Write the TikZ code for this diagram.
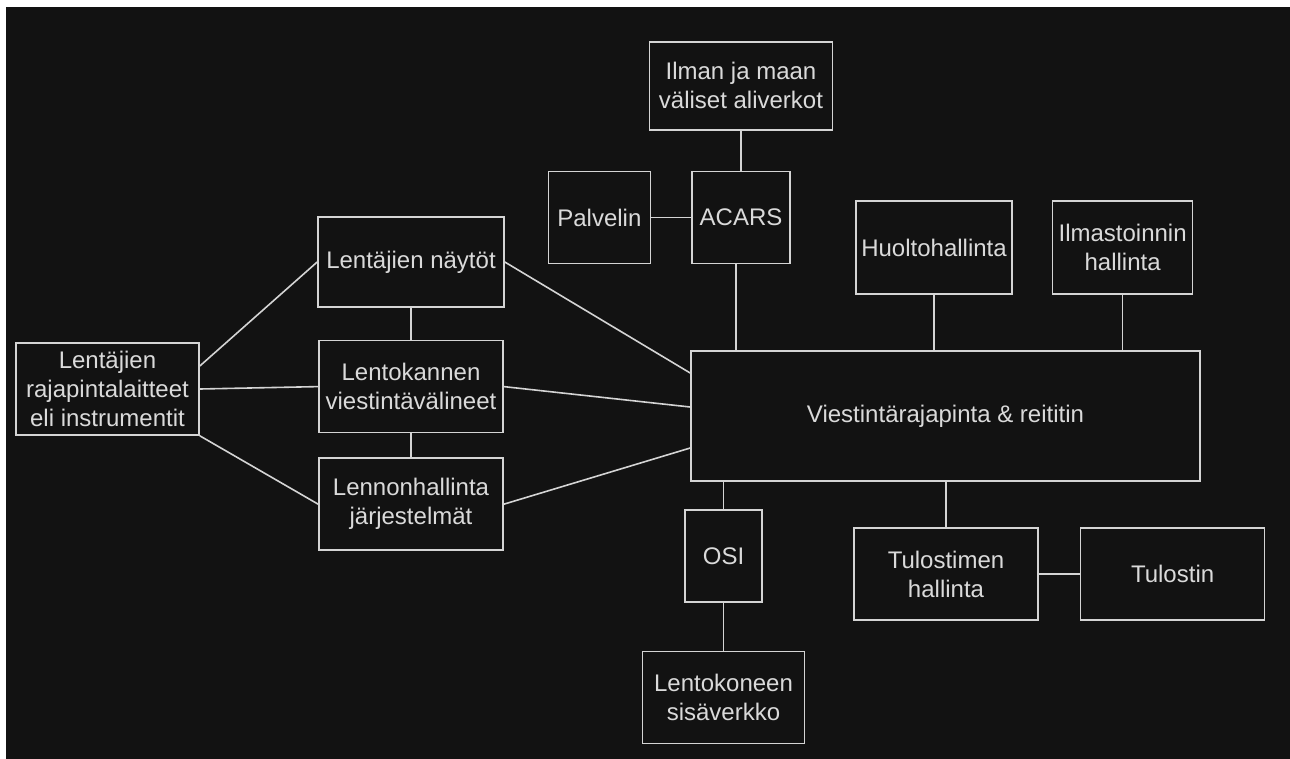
\documentclass[tikz,border=0pt]{standalone}
\usepackage{fontspec}
\setmainfont{Liberation Sans}
\usetikzlibrary{positioning}
\definecolor{bgdark}{RGB}{18,18,18}
\definecolor{linegray}{RGB}{212,212,212}
\definecolor{textgray}{RGB}{218,218,218}

\begin{document}
\begin{tikzpicture}[
  x=1pt, y=-1pt,
  box/.style={draw=linegray, line width=1.6pt, fill=bgdark, text=textgray, minimum height=92pt, align=center, inner sep=2pt, font=\fontsize{24}{29}\selectfont},
  link/.style={draw=linegray, line width=1.6pt}
]
  % Background
  \useasboundingbox (0,0) rectangle (1290,758);
  \fill[white] (0,0) rectangle (1290,758);
  \fill[bgdark] (6,7) rectangle (1300,768);

  % Nodes
  \node[box, minimum width=509pt, minimum height=130pt] (reititin) at (945.5,416) {Viestintärajapinta \& reititin};
  \node[box, minimum width=98pt] (acars) at (741,217.5) {ACARS};
  \node[box, minimum width=102pt] (palvelin) [left=40pt of acars] {Palvelin};
  \node[box, minimum width=183pt, minimum height=88pt] (ilman) [above=40pt of acars] {Ilman ja maan\\väliset aliverkot};
  \node[box, minimum width=186pt, minimum height=90pt] (naytot) at (411,262) {Lentäjien näytöt};
  \node[box, minimum width=184pt] (kansi) [below=32pt of naytot] {Lentokannen\\viestintävälineet};
  \node[box, minimum width=184pt] (lennon) [below=24pt of kansi] {Lennonhallinta\\järjestelmät};
  \node[box, minimum width=183pt] (rajapinta) at (107.5,389) {Lentäjien\\rajapintalaitteet\\eli instrumentit};
  \node[box, minimum width=156pt, minimum height=93pt] (huolto) at (934,247.5) {Huoltohallinta};
  \node[box, minimum width=140pt, minimum height=93pt] (ilmasto) [right=39pt of huolto] {Ilmastoinnin\\hallinta};
  \node[box, minimum width=77pt] (osi) at (723.5,556) {OSI};
  \node[box, minimum width=162pt] (sisaverkko) [below=48pt of osi] {Lentokoneen\\sisäverkko};
  \node[box, minimum width=184pt] (tulhall) at (946,574) {Tulostimen\\hallinta};
  \node[box, minimum width=184pt] (tulostin) [right=41pt of tulhall] {Tulostin};

  % Edges
  \draw[link] (ilman) -- (acars);
  \draw[link] (palvelin) -- (acars);
  \draw[link] ([xshift=-5pt]acars.south) -- ([xshift=-5pt]acars.south |- reititin.north);
  \draw[link] (huolto) -- (huolto |- reititin.north);
  \draw[link] (ilmasto) -- (ilmasto |- reititin.north);
  \draw[link] (naytot) -- (kansi);
  \draw[link] (kansi) -- (lennon);
  \draw[link] ([yshift=23pt]rajapinta.east) -- (naytot.west);
  \draw[link] (rajapinta.east) -- (kansi.west);
  \draw[link] (rajapinta.south east) -- (lennon.west);
  \draw[link] (naytot.east) -- ([yshift=43pt]reititin.west);
  \draw[link] (kansi.east) -- ([yshift=9pt]reititin.west);
  \draw[link] (lennon.east) -- ([yshift=-32pt]reititin.west);
  \draw[link] (reititin.south -| osi) -- (osi);
  \draw[link] (osi) -- (sisaverkko);
  \draw[link] (reititin.south -| tulhall) -- (tulhall);
  \draw[link] (tulhall) -- (tulostin);

\end{tikzpicture}
\end{document}
